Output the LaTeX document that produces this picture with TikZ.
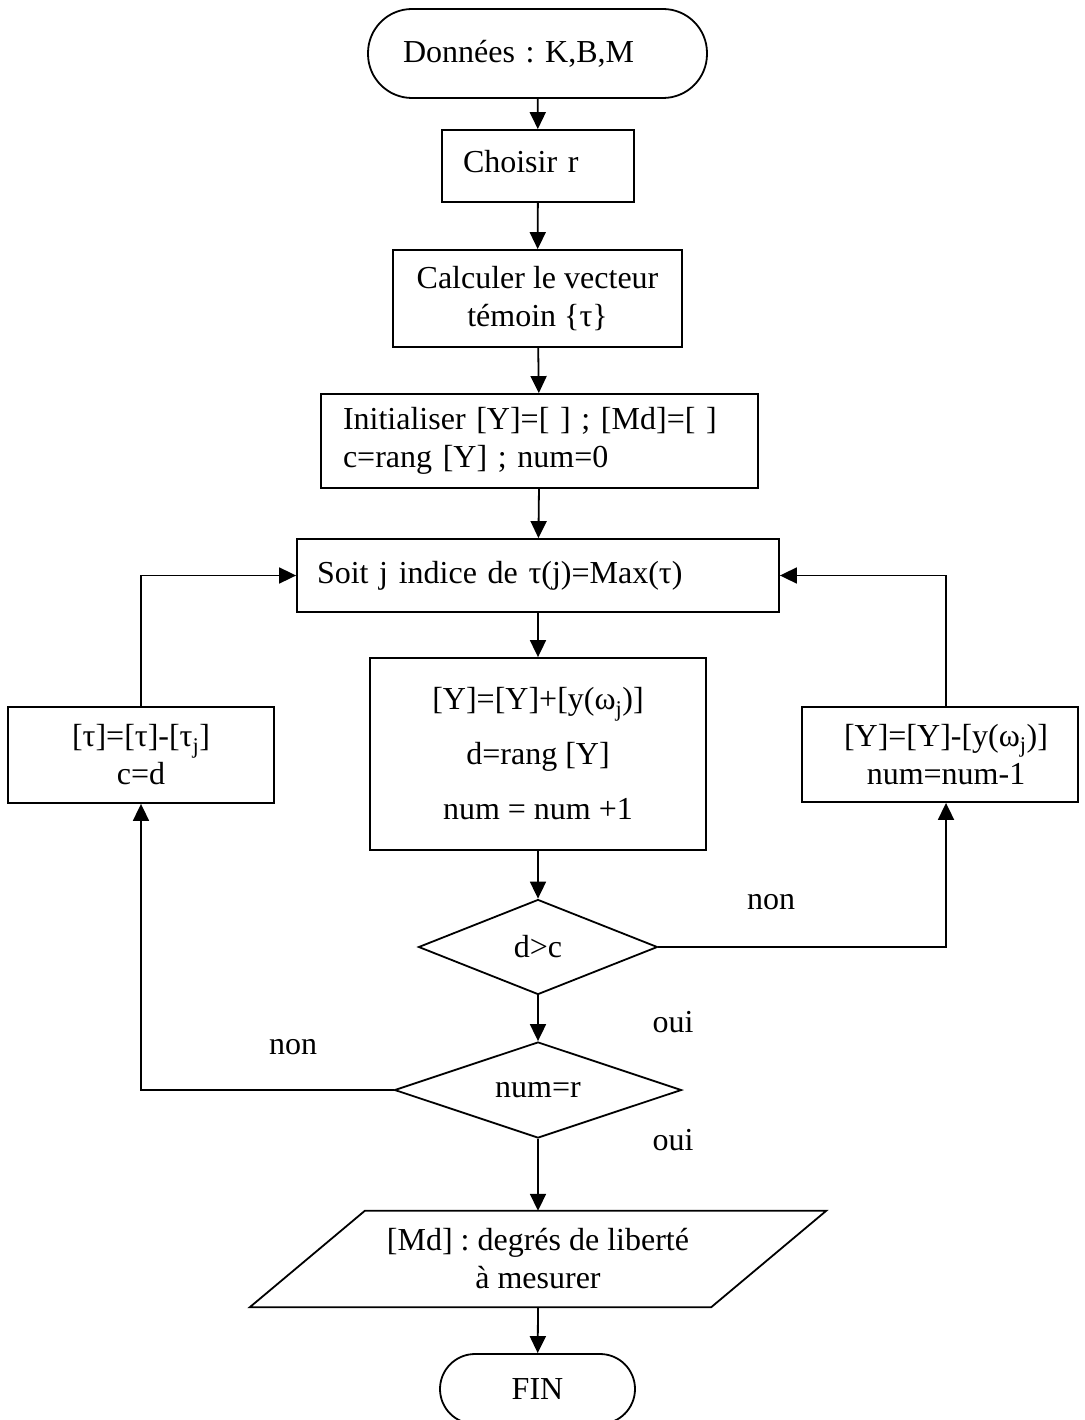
\documentclass[tikz,border=0pt]{standalone}
\usepackage{fontspec}
\setmainfont{Liberation Serif}
\usetikzlibrary{arrows.meta,shapes.geometric}
\begin{document}
\frenchspacing
\begin{tikzpicture}[x=1pt,y=-1pt,
  every node/.style={font=\fontsize{32}{38}\selectfont, inner sep=0pt},
  box/.style={draw, line width=1.8pt, rectangle, align=center},
  leftbox/.style={draw, line width=1.8pt, rectangle, align=left},
  term/.style={draw, line width=1.8pt, rectangle, align=center},
  decision/.style={draw, diamond, line width=1.8pt, aspect=2.5},
  flow/.style={line width=1.8pt, -{Triangle[length=17pt,width=16pt]}},
  lbl/.style={anchor=center}]
\useasboundingbox (0,0) rectangle (1084,1420);

% terminal and process boxes
\node[leftbox, rounded corners=44pt, text width=269pt, inner xsep=35pt,
      minimum height=89pt] (start) at (537.5,53.5) {Données : K,B,M};
\node[leftbox, text width=150pt, inner xsep=21pt, minimum height=72pt,
      text depth=10pt] (choose) at (538,166) {Choisir r};
\node[box, minimum width=289pt, minimum height=97pt] (calc) at (537.5,298.5)
      {Calculer le vecteur\\témoin \{τ\}};
\node[leftbox, text width=393pt, inner xsep=22pt, minimum height=94pt] (init) at (539.5,441)
      {Initialiser [Y]=[ ] ; [Md]=[ ]\\c=rang [Y] ; num=0};
\node[leftbox, text width=442pt, inner xsep=20pt, minimum height=73pt] (soit) at (538,575.5)
      {Soit j indice de τ(j)=Max(τ)};
\node[box, minimum width=336pt, minimum height=192pt] (add) at (538,754)
      {[Y]=[Y]+[y(ω\textsubscript{j})]\\[17pt]d=rang [Y]\\[17pt]num = num +1};
\node[box, minimum width=266pt, minimum height=96pt] (upd) at (141,755)
      {[τ]=[τ]-[τ\textsubscript{j}]\\c=d};
\node[box, minimum width=276pt, minimum height=95pt] (undo) at (940,754.5)
      {\hspace*{12pt}[Y]=[Y]-[y(ω\textsubscript{j})]\\\hspace*{12pt}num=num-1};

% decisions
\node[decision, minimum width=239pt, minimum height=95pt] (dc) at (538,947) {d>c};
\node[decision, minimum width=287pt, minimum height=96pt] (numr) at (538,1090) {num=r};

% output (parallelogram)
\node[minimum width=461pt, minimum height=96pt, align=center] (out) at (538,1259)
      {[Md] : degrés de liberté\\à mesurer};
\draw[line width=1.8pt] ([xshift=-57.5pt]out.south west) -- ([xshift=57.5pt]out.north west)
  -- ([xshift=57.5pt]out.north east) -- ([xshift=-57.5pt]out.south east) -- cycle;

\node[term, rounded corners=35pt, minimum width=195pt, minimum height=70pt] (fin) at (537.5,1389) {FIN};

% main flow
\draw[flow] (start) -- (choose);
\draw[flow] (choose) -- (calc);
\draw[flow] (calc) -- (init);
\draw[flow] (init) -- (soit);
\draw[flow] (soit) -- (add);
\draw[flow] (add) -- (dc);
\draw[flow] (dc) -- (numr);
\draw[flow] (numr) -- (out.north);
\draw[flow] (out.south) -- (fin);

% loops
\draw[flow] (dc.east) -| ([xshift=6pt]undo.south);
\draw[flow] ([xshift=6pt]undo.north) |- (soit.east);
\draw[flow] (numr.west) -| (upd.south);
\draw[flow] (upd.north) |- (soit.west);

% branch labels
\node[lbl] (l1) at (771,902) {non};
\node[lbl] (l2) at (673,1022) {oui};
\node[lbl] (l3) at (293,1047) {non};
\node[lbl] (l4) at (673,1140) {oui};
\end{tikzpicture}
\end{document}
